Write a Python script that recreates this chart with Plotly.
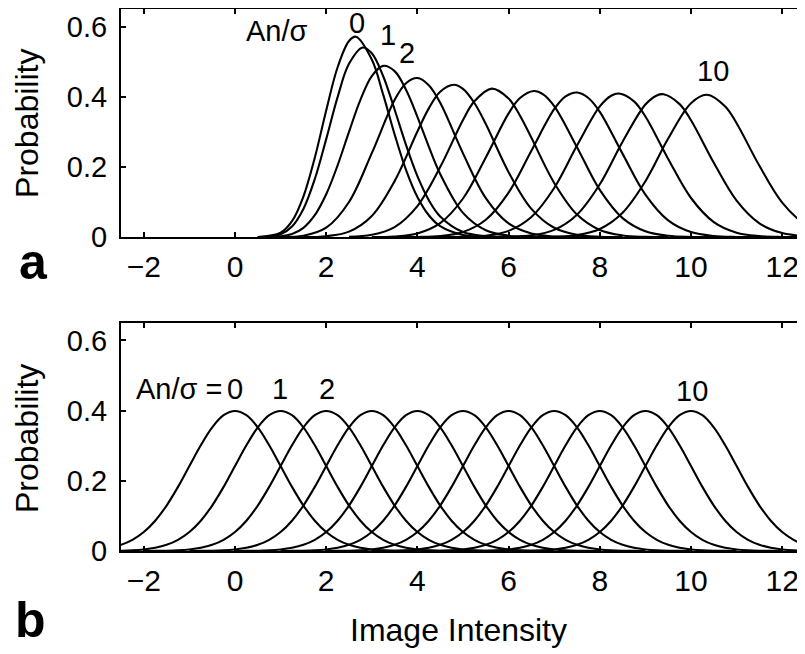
import plotly.graph_objects as go

# ---------------- data ----------------
# panel a: one curve per An/sigma value (0..10)
a0_x = [0.5, 1, 1.25, 1.5, 1.75, 2, 2.25, 2.5, 2.65, 3, 3.25, 3.5, 3.75, 4, 4.25, 4.5, 5, 5.5, 6]
a0_y = [0.0001, 0.0126, 0.0455, 0.1156, 0.2265, 0.361, 0.484, 0.559, 0.571, 0.506, 0.406, 0.293, 0.192, 0.1145, 0.0624, 0.0312, 0.0061, 0.0009, 0.0001]
a1_x = [0.5, 1, 1.25, 1.5, 1.75, 2, 2.25, 2.5, 2.8, 3, 3.25, 3.5, 3.75, 4, 4.25, 4.5, 5, 5.5, 6]
a1_y = [0.0001, 0.0082, 0.0304, 0.0805, 0.1657, 0.2794, 0.3990, 0.4938, 0.5404, 0.5238, 0.4585, 0.3636, 0.2629, 0.1738, 0.1056, 0.0591, 0.0146, 0.0030, 0.0005]
a2_x = [0.5, 1, 1.25, 1.5, 1.75, 2, 2.25, 2.5, 2.75, 3, 3.25, 3.5, 3.75, 4, 4.25, 4.5, 5, 5.5, 6, 6.5, 7]
a2_y = [0.00002, 0.0022, 0.009, 0.0267, 0.0627, 0.1223, 0.2046, 0.300, 0.391, 0.459, 0.488, 0.473, 0.420, 0.343, 0.258, 0.180, 0.0693, 0.0199, 0.0043, 0.0007, 0.0001]
a3_x = [1, 1.5, 2, 2.5, 3, 3.5, 3.75, 4, 4.25, 4.5, 5, 5.5, 6, 6.5, 7, 7.5, 8]
a3_y = [0.0002, 0.0040, 0.0269, 0.1003, 0.2394, 0.3909, 0.4386, 0.4535, 0.4330, 0.3828, 0.2388, 0.1113, 0.0391, 0.0104, 0.0021, 0.0003, 0.00004]
a4_x = [1.5, 2, 2.5, 3, 3.5, 4, 4.25, 4.5, 4.8, 5, 5.25, 5.5, 6, 6.5, 7, 7.5, 8, 8.5]
a4_y = [0.0003, 0.0027, 0.0158, 0.0605, 0.1597, 0.3010, 0.3669, 0.4143, 0.4341, 0.4223, 0.3823, 0.3222, 0.1853, 0.0808, 0.0268, 0.0068, 0.0013, 0.0002]
a5_x = [2.5, 3, 3.5, 4, 4.5, 5, 5.25, 5.63, 6, 6.25, 6.5, 7, 7.5, 8, 8.5, 9, 9.5]
a5_y = [0.0011, 0.0067, 0.0288, 0.0886, 0.1996, 0.3338, 0.3870, 0.4232, 0.3950, 0.3460, 0.2830, 0.1544, 0.0644, 0.0206, 0.0050, 0.0009, 0.0001]
a6_x = [3, 3.5, 4, 4.5, 5, 5.5, 6, 6.25, 6.55, 6.75, 7, 7.5, 8, 8.5, 9, 9.5, 10, 10.5]
a6_y = [0.0003, 0.0021, 0.0108, 0.0401, 0.1102, 0.2270, 0.3527, 0.3963, 0.4164, 0.4077, 0.3735, 0.2564, 0.1348, 0.0544, 0.0169, 0.0040, 0.0007, 0.0001]
a7_x = [3.5, 4, 4.5, 5, 5.5, 6, 6.5, 7, 7.25, 7.5, 7.75, 8, 8.5, 9, 9.5, 10, 10.5, 11, 11.5]
a7_y = [0.0001, 0.0005, 0.0032, 0.0147, 0.0496, 0.1270, 0.2465, 0.3645, 0.4008, 0.4121, 0.3964, 0.3568, 0.2373, 0.1213, 0.0478, 0.0145, 0.0034, 0.0006, 0.0001]
a8_x = [4.5, 5, 5.5, 6, 6.5, 7, 7.5, 8, 8.25, 8.42, 8.75, 9, 9.5, 10, 10.5, 11, 11.5, 12, 12.5]
a8_y = [0.0001, 0.0008, 0.0043, 0.0180, 0.0575, 0.1402, 0.2610, 0.3724, 0.4028, 0.4091, 0.3869, 0.3437, 0.2230, 0.1116, 0.0431, 0.0129, 0.0030, 0.0005, 0.0001]
a9_x = [5.5, 6, 6.5, 7, 7.5, 8, 8.5, 9, 9.25, 9.4, 9.75, 10, 10.5, 11, 11.5, 12, 12.5, 13]
a9_y = [0.0001, 0.0010, 0.0052, 0.0209, 0.0641, 0.1507, 0.2721, 0.3778, 0.4037, 0.4071, 0.3790, 0.3332, 0.2121, 0.1043, 0.0396, 0.0116, 0.0027, 0.0005]
a10_x = [6.5, 7, 7.5, 8, 8.5, 9, 9.5, 10, 10.35, 10.75, 11, 11.5, 12, 12.5, 13]
a10_y = [0.0002, 0.0012, 0.0060, 0.0234, 0.0696, 0.1594, 0.2809, 0.3818, 0.4057, 0.3723, 0.3245, 0.2033, 0.0985, 0.0370, 0.0107]

# panel b: identical bell shapes centred at An/sigma = 0..10
b_centers = [0, 1, 2, 3, 4, 5, 6, 7, 8, 9, 10]
b_offsets = [-4, -3.75, -3.5, -3.25, -3, -2.75, -2.5, -2.25, -2, -1.75, -1.5, -1.25, -1, -0.75, -0.5, -0.25,
             0, 0.25, 0.5, 0.75, 1, 1.25, 1.5, 1.75, 2, 2.25, 2.5, 2.75, 3, 3.25, 3.5, 3.75, 4]
b_shape = [0.0001, 0.0004, 0.0009, 0.0020, 0.0044, 0.0091, 0.0175, 0.0317, 0.0540, 0.0863, 0.1295, 0.1826, 0.2420, 0.3011, 0.3521, 0.3867,
           0.3989, 0.3867, 0.3521, 0.3011, 0.2420, 0.1826, 0.1295, 0.0863, 0.0540, 0.0317, 0.0175, 0.0091, 0.0044, 0.0020, 0.0009, 0.0004, 0.0001]

x_ticks = [-2, 0, 2, 4, 6, 8, 10, 12]
y_ticks = [0, 0.2, 0.4, 0.6]
y_tick_text = ["0", "0.2", "0.4", "0.6"]

# ---------------- figure ----------------
top_curves = [(a0_x, a0_y), (a1_x, a1_y), (a2_x, a2_y), (a3_x, a3_y), (a4_x, a4_y), (a5_x, a5_y),
              (a6_x, a6_y), (a7_x, a7_y), (a8_x, a8_y), (a9_x, a9_y), (a10_x, a10_y)]

FONT = "Liberation Sans, Arial, Helvetica, sans-serif"
line_style = dict(color="black", width=2.1, shape="spline", smoothing=1.0)

fig = go.Figure()
for xs, ys in top_curves:
    fig.add_trace(go.Scatter(x=xs, y=ys, mode="lines", line=line_style,
                             xaxis="x", yaxis="y", showlegend=False, hoverinfo="skip"))
for c in b_centers:
    fig.add_trace(go.Scatter(x=[c + o for o in b_offsets], y=b_shape, mode="lines", line=line_style,
                             xaxis="x2", yaxis="y2", showlegend=False, hoverinfo="skip"))

xcommon = dict(range=[-2.5, 12.5], tickvals=x_ticks, ticks="inside", ticklen=5, tickwidth=1.5,
               tickcolor="black", showline=True, linewidth=2, linecolor="black", mirror="ticks",
               showgrid=False, zeroline=False, automargin=False,
               tickfont=dict(size=30, color="black", family=FONT), ticklabelstandoff=2)
ycommon = dict(range=[0, 0.65], tickvals=y_ticks, ticktext=y_tick_text, ticks="inside", ticklen=5,
               tickwidth=1.5, tickcolor="black", showline=True, linewidth=2, linecolor="black",
               mirror="ticks", showgrid=False, zeroline=False, automargin=False,
               tickfont=dict(size=29, color="black", family=FONT), ticklabelstandoff=6)

# the page body adds an 8 px offset, so the figure is sized to end at the window edge
fig.update_layout(
    width=797, height=646,
    margin=dict(l=113, r=0, t=1, b=103),
    paper_bgcolor="white", plot_bgcolor="white",
    font=dict(family=FONT, color="black"),
    xaxis=dict(xcommon, anchor="y"),
    yaxis=dict(ycommon, domain=[0.579, 1.0], anchor="x"),
    xaxis2=dict(xcommon, anchor="y2"),
    yaxis2=dict(ycommon, domain=[0.0, 0.421], anchor="x2"),
)

title_font = dict(size=32, color="black", family=FONT)
ann_font = dict(size=29, color="black", family=FONT)
C = dict(showarrow=False, xanchor="center", yanchor="middle")
annotations = [
    # axis titles
    dict(C, x=-0.1374, y=0.788, xref="paper", yref="paper", text="Probability", textangle=-90, font=title_font),
    dict(C, x=-0.1374, y=0.2066, xref="paper", yref="paper", text="Probability", textangle=-90, font=title_font),
    dict(C, x=0.494, y=-0.146, xref="paper", yref="paper", text="Image Intensity", font=title_font),
    # curve labels
    dict(C, x=0.93, y=0.587, xref="x", yref="y", text="An/σ", font=ann_font),
    dict(C, x=2.67, y=0.610, xref="x", yref="y", text="0", font=ann_font),
    dict(C, x=3.35, y=0.575, xref="x", yref="y", text="1", font=ann_font),
    dict(C, x=3.77, y=0.525, xref="x", yref="y", text="2", font=ann_font),
    dict(C, x=10.49, y=0.473, xref="x", yref="y", text="10", font=ann_font),
    dict(C, x=-0.25, y=0.461, xref="x2", yref="y2", text="An/σ =", font=ann_font, xanchor="right"),
    dict(C, x=0.0, y=0.461, xref="x2", yref="y2", text="0", font=ann_font),
    dict(C, x=0.985, y=0.461, xref="x2", yref="y2", text="1", font=ann_font),
    dict(C, x=2.01, y=0.461, xref="x2", yref="y2", text="2", font=ann_font),
    dict(C, x=10.03, y=0.456, xref="x2", yref="y2", text="10", font=ann_font),
    # panel letters
    dict(C, x=-0.128, y=0.533, xref="paper", yref="paper", text="<b>a</b>",
         font=dict(size=50, color="black", family=FONT)),
    dict(C, x=-0.132, y=-0.127, xref="paper", yref="paper", text="<b>b</b>",
         font=dict(size=50, color="black", family=FONT)),
]
fig.update_layout(annotations=annotations)

fig.write_html("out.html")
